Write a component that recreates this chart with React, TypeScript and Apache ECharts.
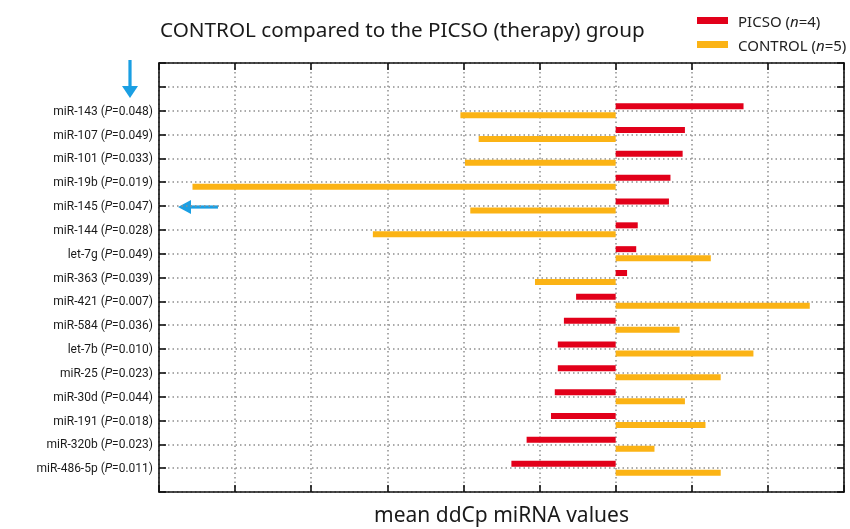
import React, { useEffect, useRef } from "react";
import * as echarts from "echarts";

// bottom to top order (index 0 and the last two are empty slots)
const mirnas = [
  "miR-486-5p", "miR-320b", "miR-191", "miR-30d", "miR-25", "let-7b", "miR-584", "miR-421",
  "miR-363", "let-7g", "miR-144", "miR-145", "miR-19b", "miR-101", "miR-107", "miR-143",
];
const pValues = [
  "0.011", "0.023", "0.018", "0.044", "0.023", "0.010", "0.036", "0.007",
  "0.039", "0.049", "0.028", "0.047", "0.019", "0.033", "0.049", "0.048",
];
const picso = [
  -1.37, -1.17, -0.85, -0.80, -0.76, -0.76, -0.68, -0.52,
  0.15, 0.27, 0.29, 0.70, 0.72, 0.88, 0.91, 1.68,
];
const control = [
  1.38, 0.51, 1.18, 0.91, 1.38, 1.81, 0.84, 2.55,
  -1.06, 1.25, -3.19, -1.91, -5.56, -1.98, -1.80, -2.04,
];
const seriesNames = ["PICSO", "CONTROL"];
const groupSizes = [4, 5];
const titleText = "CONTROL compared to the PICSO (therapy) group";
const xAxisTitle = "mean ddCp miRNA values";

const RED = "#e2001a";
const YELLOW = "#fbb315";
const BLUE = "#1a9fe3";
const FONT = "Noto Sans";
const LABEL_FONT = "Roboto";

export default function App() {
  const ref = useRef<HTMLDivElement>(null);
  useEffect(() => {
    if (!ref.current) return;
    const chart = echarts.init(ref.current, undefined, { renderer: "svg", width: 850, height: 529 });
    const cats = ["", ...mirnas, "", ""];
    const pad = (arr: number[]) => [null, ...arr, null, null];
    const labelFor = (idx: number) => {
      if (idx < 1 || idx > mirnas.length) return "";
      return `{n|${mirnas[idx - 1]} (}{i|P}{n|=${pValues[idx - 1]})}`;
    };
    const gridLine = { show: true, lineStyle: { type: [1.5, 3] as any, color: "#8f8f8f", width: 1.5 } };
    const axisLine = { show: true, onZero: false, lineStyle: { color: "#111", width: 1.6 } };
    const tick = { show: true, inside: true, length: 7, lineStyle: { color: "#111", width: 1.6 } };
    chart.setOption({
      animation: false,
      textStyle: { fontFamily: FONT },
      title: {
        text: titleText,
        left: 155,
        top: 13,
        textStyle: { fontFamily: FONT, fontSize: 20.7, fontWeight: "normal", color: "#1a1a1a" },
      },
      legend: {
        orient: "vertical",
        left: 697,
        top: 13,
        padding: 0,
        itemWidth: 31,
        itemHeight: 7,
        itemGap: 9,
        icon: "rect",
        data: seriesNames,
        formatter: (name: string) => {
          const i = seriesNames.indexOf(name);
          return `{f|${name} (}{i|n}{n|=${groupSizes[i]})}`;
        },
        textStyle: {
          rich: {
            f: { fontFamily: FONT, fontSize: 15, color: "#222", padding: [0, 0, 0, 5] },
            n: { fontFamily: FONT, fontSize: 15, color: "#222" },
            i: { fontFamily: FONT, fontSize: 15, color: "#222", fontStyle: "italic" },
          },
        },
      },
      grid: { left: 159, right: 6, top: 63, bottom: 33, containLabel: false },
      xAxis: [
        {
          type: "value",
          min: -6,
          max: 3,
          interval: 1,
          position: "bottom",
          axisLine,
          axisTick: tick,
          axisLabel: { show: false },
          splitLine: gridLine,
          name: xAxisTitle,
          nameLocation: "middle",
          nameGap: 11,
          nameTextStyle: { fontFamily: FONT, fontSize: 21, color: "#1a1a1a" },
        },
        {
          type: "value",
          min: -6,
          max: 3,
          interval: 1,
          position: "top",
          axisLine,
          axisTick: tick,
          axisLabel: { show: false },
          splitLine: { show: false },
        },
      ],
      yAxis: [
        {
          type: "category",
          data: cats,
          boundaryGap: false,
          position: "left",
          axisLine,
          axisTick: { ...tick, interval: 0 },
          axisLabel: {
            interval: 0,
            margin: 6,
            formatter: (_v: string, idx: number) => labelFor(idx),
            rich: {
              n: { fontFamily: LABEL_FONT, fontSize: 12, color: "#1a1a1a" },
              i: { fontFamily: LABEL_FONT, fontSize: 12, color: "#1a1a1a", fontStyle: "italic" },
            },
          },
          splitLine: { ...gridLine, interval: 0 },
        },
        {
          type: "category",
          data: cats,
          boundaryGap: false,
          position: "right",
          axisLine,
          axisTick: { ...tick, interval: 0 },
          axisLabel: { show: false },
          splitLine: { show: false },
        },
      ],
      series: [
        {
          name: seriesNames[0],
          type: "bar",
          xAxisIndex: 0,
          yAxisIndex: 0,
          data: pad(picso),
          barWidth: 6,
          barGap: "50%",
          itemStyle: { color: RED },
        },
        {
          name: seriesNames[1],
          type: "bar",
          xAxisIndex: 0,
          yAxisIndex: 0,
          data: pad(control),
          barWidth: 6,
          barGap: "50%",
          itemStyle: { color: YELLOW },
        },
      ],
      graphic: [
        { type: "line", shape: { x1: 130, y1: 60, x2: 130, y2: 88 }, style: { stroke: BLUE, lineWidth: 3.2 } },
        { type: "polygon", shape: { points: [[122, 86], [138, 86], [130, 98]] }, style: { fill: BLUE } },
        { type: "line", shape: { x1: 218, y1: 207, x2: 188, y2: 207 }, style: { stroke: BLUE, lineWidth: 3.2 } },
        { type: "polygon", shape: { points: [[178, 207], [191, 200], [191, 214]] }, style: { fill: BLUE } },
      ],
    });
    return () => chart.dispose();
  }, []);
  return (
    <div
      ref={ref}
      style={{ position: "fixed", left: 0, top: 0, width: 850, height: 529 }}
    />
  );
}
